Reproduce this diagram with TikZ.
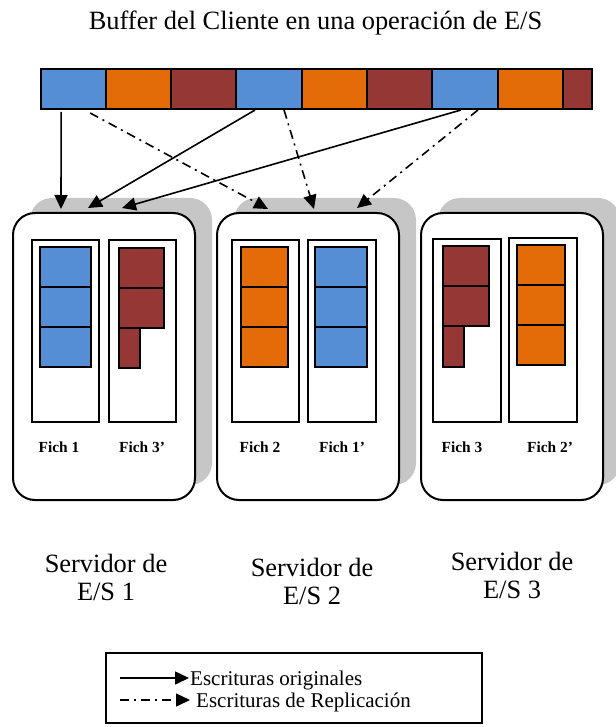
\documentclass[tikz,border=0pt]{standalone}
\usepackage{fontspec}
\setmainfont{Liberation Serif}
\usetikzlibrary{arrows.meta,calc,backgrounds}
\definecolor{cblue}{RGB}{85,142,213}
\definecolor{corange}{RGB}{227,108,9}
\definecolor{cred}{RGB}{149,55,53}
\definecolor{cshadow}{RGB}{198,198,198}
\tikzset{
  cell/.style={draw, line width=2pt, inner sep=0pt, outer sep=0pt, anchor=north west, minimum height=40pt},
  server/.style={draw, line width=2pt, fill=white, rounded corners=22pt, inner sep=0pt, outer sep=0pt, anchor=north west, minimum width=182pt, minimum height=287pt},
  shadowbox/.style={fill=cshadow, rounded corners=22pt},
  filebox/.style={draw, line width=1.8pt, fill=white, inner sep=0pt, outer sep=0pt, anchor=north west, minimum width=67pt, minimum height=182pt},
  blk/.style={draw, line width=1.8pt},
  orig/.style={line width=1.6pt, -{Triangle[length=14pt,width=13pt]}},
  repl/.style={orig, dash pattern=on 9pt off 5pt on 2pt off 5pt},
  flabel/.style={font=\fontsize{15.4}{18}\selectfont\bfseries, anchor=base, inner sep=0pt},
  slabel/.style={font=\fontsize{26.4}{30}\selectfont, anchor=base, inner sep=0pt},
  ltext/.style={font=\fontsize{21}{24}\selectfont, anchor=base west, inner sep=0pt},
}
\begin{document}
\begin{tikzpicture}[x=1pt,y=-1pt]
\useasboundingbox (0,0) rectangle (615,727);

% title
\node[slabel] (title) at (315.5,30) {Buffer del Cliente en una operación de E/S};

% buffer
\node[cell, fill=cblue,   minimum width=65.3pt] (b1) at (40.5,69) {};
\node[cell, fill=corange, minimum width=65.3pt] (b2) at (105.8,69) {};
\node[cell, fill=cred,    minimum width=65.3pt] (b3) at (171.1,69) {};
\node[cell, fill=cblue,   minimum width=65.3pt] (b4) at (236.4,69) {};
\node[cell, fill=corange, minimum width=65.3pt] (b5) at (301.7,69) {};
\node[cell, fill=cred,    minimum width=65.3pt] (b6) at (367.0,69) {};
\node[cell, fill=cblue,   minimum width=65.3pt] (b7) at (432.3,69) {};
\node[cell, fill=corange, minimum width=65.3pt] (b8) at (497.6,69) {};
\node[cell, fill=cred,    minimum width=29.1pt] (b9) at (562.9,69) {};

% servers
\node[server] (s1) at (13,213) {};
\node[server] (s2) at (217,213) {};
\node[server] (s3) at (421,213) {};
\begin{scope}[on background layer]
  \foreach \s in {s1,s2,s3}
    \fill[shadowbox] ($(\s.south west)+(17,-15)$) rectangle ($(\s.north east)+(17,-15)$);
\end{scope}

% file boxes
\node[filebox] (f1)  at (32,240) {};
\node[filebox] (f3p) at (109,240) {};
\node[filebox] (f2)  at (232,240) {};
\node[filebox, minimum width=68pt] (f1p) at (308,240) {};
\node[filebox, minimum width=68pt, minimum height=183pt] (f3)  at (433,239) {};
\node[filebox, minimum width=68pt, minimum height=184pt] (f2p) at (509,238) {};

% blocks server 1
\foreach \y in {247,287,327} \filldraw[blk, fill=cblue] (40,\y) rectangle +(51,40);
\foreach \y in {248,288} \filldraw[blk, fill=cred] (119,\y) rectangle +(45,40);
\filldraw[blk, fill=cred] (119,328) rectangle (140,368);
% blocks server 2
\foreach \y in {247,287,327} \filldraw[blk, fill=corange] (241,\y) rectangle +(47,40);
\foreach \y in {247,287,327} \filldraw[blk, fill=cblue] (315,\y) rectangle +(52,40);
% blocks server 3
\foreach \y in {246,286} \filldraw[blk, fill=cred] (443,\y) rectangle +(46,40);
\filldraw[blk, fill=cred] (443,326) rectangle (464,367);
\foreach \y in {245,285,325} \filldraw[blk, fill=corange] (517,\y) rectangle +(48,40);

% file labels
\node[flabel] (lf1)  at (59,452)  {Fich 1};
\node[flabel] (lf3p) at (142,452) {Fich 3’};
\node[flabel] (lf2)  at (260,452) {Fich 2};
\node[flabel] (lf1p) at (342,452) {Fich 1’};
\node[flabel] (lf3)  at (462,452) {Fich 3};
\node[flabel] (lf2p) at (550,452) {Fich 2’};

% arrow end points
\coordinate (t1) at (61,209);
\coordinate (t2) at (88,208);
\coordinate (t3) at (122,208);
\coordinate (r1) at (268,209);
\coordinate (r2) at (314,209);
\coordinate (r3) at (357,208);

\draw[orig] ($(b1.south)+(-12,3)$) -- (t1);
\draw[orig] ($(b4.south)+(-14,1)$) -- (t2);
\draw[orig] ($(b7.south)+(-4,1)$) -- (t3);
\draw[repl] ($(b1.south)+(17,4)$) -- (r1);
\draw[repl] ($(b4.south)+(15,1)$) -- (r2);
\draw[repl] ($(b7.south)+(13,1)$) -- (r3);

% server labels
\node[slabel] (sl1a) at (106,572) {Servidor de};
\node[slabel] (sl1b) at (106,600) {E/S 1};
\node[slabel] (sl2a) at (312,576) {Servidor de};
\node[slabel] (sl2b) at (312,604) {E/S 2};
\node[slabel] (sl3a) at (512,570) {Servidor de};
\node[slabel] (sl3b) at (512,598) {E/S 3};

% legend
\node[draw, line width=1.5pt, inner sep=0pt, outer sep=0pt, anchor=north west, minimum width=376pt, minimum height=70pt] (lg) at (106,653) {};
\coordinate (la1) at (120,678);
\coordinate (lb1) at (189,678);
\coordinate (la2) at (120,700);
\coordinate (lb2) at (190,700);
\draw[orig] (la1) -- (lb1);
\draw[repl] (la2) -- (lb2);
\node[ltext] (lt1) at (190,685) {Escrituras originales};
\node[ltext] (lt2) at (196,707) {Escrituras de Replicación};
\end{tikzpicture}
\end{document}
